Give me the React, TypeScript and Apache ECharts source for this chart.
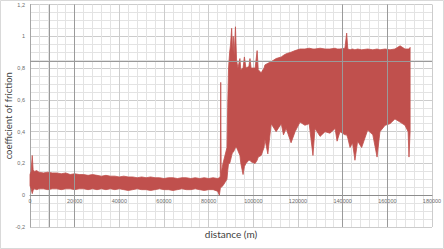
import React, { useEffect, useRef } from 'react';
import * as echarts from 'echarts';

// distance along the test (m)
const distance = [
  0, 500, 1000, 1400, 2000, 3000, 4000, 6000, 8000, 10000,
  12000, 14000, 16000, 18000, 20000, 22000, 24000, 26000, 28000, 30000,
  32000, 34000, 36000, 38000, 40000, 42000, 44000, 46000, 48000, 50000,
  52000, 54000, 56000, 58000, 60000, 62000, 64000, 66000, 68000, 70000,
  72000, 74000, 76000, 78000, 80000, 82000, 84000, 84800, 85200, 85400,
  85600, 86400, 87300, 88200, 88500, 88900, 89400, 89800, 90300, 90700,
  91000, 91400, 92000, 92500, 93100, 94000, 94400, 95400, 96000, 96700,
  98000, 98500, 99000, 100800, 101700, 102200, 103500, 104800, 105200, 106500,
  108000, 110200, 112500, 113500, 114700, 116900, 118700, 120900, 123100, 125000,
  126700, 127600, 129900, 132100, 134300, 136600, 137500, 138800, 141000, 141800,
  142300, 143300, 144400, 145500, 146700, 148500, 151200, 153500, 155400, 156700,
  159000, 161200, 163400, 165700, 167900, 169300, 169700, 170200,
];

// upper envelope of the oscillating coefficient of friction
const upperCof = [
  0.13, 0.15, 0.25, 0.16, 0.15, 0.155, 0.145, 0.14, 0.145, 0.14,
  0.14, 0.135, 0.14, 0.13, 0.135, 0.13, 0.13, 0.125, 0.13, 0.125,
  0.12, 0.125, 0.12, 0.12, 0.115, 0.12, 0.115, 0.115, 0.11, 0.115,
  0.11, 0.115, 0.11, 0.11, 0.105, 0.11, 0.11, 0.105, 0.11, 0.11,
  0.105, 0.11, 0.105, 0.11, 0.105, 0.11, 0.105, 0.11, 0.12, 0.71,
  0.14, 0.2, 0.25, 0.3, 0.55, 0.8, 0.9, 0.95, 1.05, 0.9,
  1.0, 0.88, 1.06, 0.85, 0.8, 0.86, 0.79, 0.8, 0.87, 0.8,
  0.81, 0.86, 0.8, 0.8, 0.91, 0.79, 0.77, 0.8, 0.82, 0.83,
  0.84, 0.86, 0.87, 0.88, 0.89, 0.9, 0.91, 0.92, 0.92, 0.925,
  0.92, 0.92, 0.925, 0.92, 0.92, 0.925, 0.92, 0.92, 0.925, 1.02,
  0.92, 0.915, 0.92, 0.915, 0.92, 0.915, 0.92, 0.915, 0.92, 0.915,
  0.92, 0.915, 0.92, 0.94, 0.92, 0.92, 0.92, 0.93,
];

// lower envelope of the oscillating coefficient of friction
const lowerCof = [
  0.06, 0.04, 0.01, 0.03, 0.04, 0.035, 0.04, 0.04, 0.035, 0.04,
  0.04, 0.035, 0.04, 0.04, 0.035, 0.04, 0.04, 0.035, 0.04, 0.035,
  0.04, 0.035, 0.04, 0.035, 0.04, 0.035, 0.03, 0.035, 0.04, 0.035,
  0.035, 0.03, 0.035, 0.04, 0.035, 0.035, 0.03, 0.035, 0.04, 0.035,
  0.035, 0.04, 0.035, 0.03, 0.035, 0.035, 0.025, 0.0, 0.04, 0.05,
  0.05, 0.06, 0.08, 0.1, 0.15, 0.2, 0.2, 0.22, 0.25, 0.27,
  0.27, 0.28, 0.3, 0.3, 0.28, 0.25, 0.2, 0.13, 0.18, 0.2,
  0.22, 0.22, 0.21, 0.2, 0.22, 0.24, 0.25, 0.3, 0.35, 0.26,
  0.45, 0.4, 0.45, 0.38, 0.42, 0.33, 0.4, 0.46, 0.44, 0.45,
  0.25, 0.42, 0.37, 0.4, 0.39, 0.42, 0.34, 0.4, 0.38, 0.38,
  0.36, 0.3, 0.33, 0.22, 0.34, 0.3, 0.41, 0.38, 0.24, 0.4,
  0.44, 0.45, 0.48, 0.46, 0.44, 0.4, 0.24, 0.4,
];

const xTicks = { min: 0, max: 180000, interval: 20000 };
const yTicks = { min: -0.2, max: 1.2, interval: 0.2 };
const darkGridX = [8500, 20000, 140000, 160000];
const darkGridY = [0.84];

const RED = '#C0504D';
const GRID_TOP = 4.5;
const GRID_BOTTOM = 22;
const CHART_H = 249;

export default function App() {
  const ref = useRef<HTMLDivElement>(null);
  useEffect(() => {
    document.body.style.margin = '0';
    const chart = echarts.init(ref.current!, null, { renderer: 'svg' });
    const bandData = distance.map((d, i) => [d, lowerCof[i], upperCof[i]]);
    // distance from the bottom of the plot to the y = 0 line, so the x axis sits on zero
    const plotH = CHART_H - GRID_TOP - GRID_BOTTOM;
    const zeroOffset = (plotH * (0 - yTicks.min)) / (yTicks.max - yTicks.min);
    chart.setOption({
      animation: false,
      grid: {
        left: 30,
        right: 12,
        top: GRID_TOP,
        bottom: GRID_BOTTOM,
        containLabel: false,
        outerBoundsMode: 'none',
      },
      xAxis: {
        type: 'value',
        min: xTicks.min,
        max: xTicks.max,
        interval: xTicks.interval,
        offset: -zeroOffset,
        axisLine: { onZero: false, lineStyle: { color: '#8c8c8c', width: 1 } },
        axisTick: { show: false },
        axisLabel: {
          fontSize: 5.5,
          color: '#6b6b6b',
          margin: 3,
          fontFamily: 'Liberation Sans',
          formatter: (v: number) => String(v),
        },
        splitLine: { show: true, lineStyle: { color: '#cccccc', width: 1 } },
        minorTick: { show: false, splitNumber: 5 },
        minorSplitLine: { show: true, lineStyle: { color: '#e3e3e3', width: 1 } },
        name: 'distance (m)',
        nameLocation: 'middle',
        nameGap: 34,
        nameMoveOverlap: false,
        nameTextStyle: { fontSize: 10, color: '#404040', fontFamily: 'Lato' },
      },
      yAxis: {
        type: 'value',
        min: yTicks.min,
        max: yTicks.max,
        interval: yTicks.interval,
        axisLine: { show: true, onZero: false, lineStyle: { color: '#a6a6a6', width: 1 } },
        axisTick: { show: false },
        axisLabel: {
          fontSize: 5.5,
          color: '#6b6b6b',
          margin: 5,
          fontFamily: 'Liberation Sans',
          formatter: (v: number) => String(Math.round(v * 10) / 10).replace('.', ','),
        },
        splitLine: { show: true, lineStyle: { color: '#cccccc', width: 1 } },
        minorTick: { show: false, splitNumber: 4 },
        minorSplitLine: { show: true, lineStyle: { color: '#e3e3e3', width: 1 } },
        name: 'coefficient of friction',
        nameLocation: 'middle',
        nameGap: 17,
        nameMoveOverlap: false,
        nameTextStyle: { fontSize: 9.5, color: '#404040', fontFamily: 'Lato' },
      },
      graphic: [
        {
          type: 'rect',
          silent: true,
          shape: { x: 0.5, y: 0.5, width: 443, height: 248 },
          style: { fill: 'none', stroke: '#d9d9d9', lineWidth: 1 },
        },
      ],
      series: [
        {
          type: 'line',
          data: [],
          z: 1,
          silent: true,
          markLine: {
            silent: true,
            symbol: 'none',
            label: { show: false },
            lineStyle: { color: '#9a9a9a', width: 1, type: 'solid' },
            data: [
              ...darkGridX.map((x) => ({ xAxis: x })),
              ...darkGridY.map((y) => ({ yAxis: y })),
            ],
          },
        },
        {
          type: 'custom',
          name: 'coefficient of friction',
          data: bandData,
          z: 3,
          encode: { x: 0, y: [1, 2] },
          renderItem: (params: any, api: any) => {
            if (params.dataIndex !== 0) return null;
            const top = bandData.map((p) => api.coord([p[0], p[2]]));
            const bottom = bandData
              .slice()
              .reverse()
              .map((p) => api.coord([p[0], p[1]]));
            return {
              type: 'polygon',
              shape: { points: top.concat(bottom) },
              style: { fill: RED, stroke: RED, lineWidth: 0.8, lineJoin: 'round' },
            };
          },
        },
      ],
    });
    return () => chart.dispose();
  }, []);
  return <div ref={ref} style={{ width: 444, height: 249 }} />;
}
